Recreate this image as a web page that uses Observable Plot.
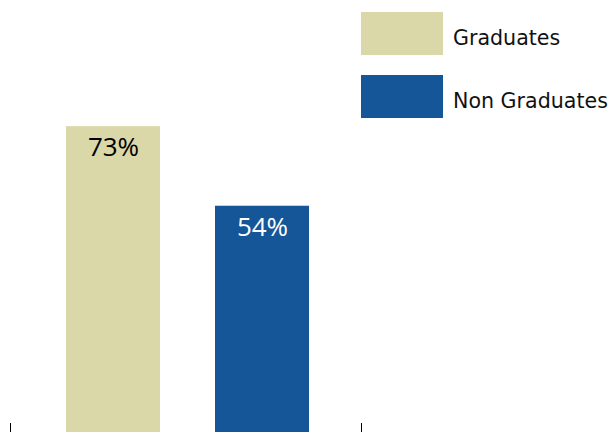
<!DOCTYPE html>
<html>
<head>
<meta charset="utf-8">
<script src="https://cdn.jsdelivr.net/npm/d3@7"></script>
<script src="https://cdn.jsdelivr.net/npm/@observablehq/plot@0.6"></script>
<style>
  html, body { margin: 0; padding: 0; background: #fff; }
  #wrap { position: relative; width: 612px; height: 432px; overflow: hidden; }
  #legend { position: absolute; left: 361px; top: 12px; font-family: "DejaVu Sans", sans-serif; font-size: 20.6px; color: #111; }
  .item { display: flex; align-items: center; height: 43px; margin-bottom: 20px; }
  .sw { width: 82px; height: 43px; margin-right: 10px; flex: none; }
  .lab { position: relative; top: 4px; white-space: nowrap; }
</style>
</head>
<body>
<div id="wrap"></div>
<script>
const categories = ["Graduates", "Non Graduates"];
const values = [73, 54];
const labels = ["73%", "54%"];
const colors = ["#DAD8A8", "#145698"];
const labelColors = ["#000000", "#ffffff"];

const data = categories.map((c, i) => ({group: c, value: values[i], label: labels[i], lc: labelColors[i]}));

const boundaryTicks = (index, scales, channels, dims) => {
  const g = d3.create("svg:g");
  const x0 = dims.marginLeft, x1 = dims.width - dims.marginRight;
  const yb = dims.height - dims.marginBottom;
  for (const x of [x0, x1]) {
    g.append("line")
      .attr("x1", x + 0.5).attr("x2", x + 0.5)
      .attr("y1", yb - 9).attr("y2", yb)
      .attr("stroke", "#000").attr("stroke-width", 1);
  }
  return g.node();
};

const chart = Plot.plot({
  width: 612,
  height: 432,
  marginLeft: 10,
  marginRight: 251,
  marginTop: 13,
  marginBottom: 0,
  x: {domain: categories, paddingInner: 0.369, paddingOuter: 0.362, align: 0.52, axis: null},
  y: {domain: [0, 100], axis: null},
  color: {domain: categories, range: colors},
  marks: [
    Plot.barY(data, {x: "group", y: "value", fill: "group"}),
    ...labelColors.map((c, i) => Plot.text(data.filter((d, j) => j === i), {
      x: "group", y: "value", text: "label", fill: c, dy: 21,
      fontSize: 26, fontFamily: "Open Sans, sans-serif", lineAnchor: "middle"
    })),
    boundaryTicks
  ]
});

const wrap = document.getElementById("wrap");
wrap.appendChild(chart);

const legend = document.createElement("div");
legend.id = "legend";
categories.forEach((c, i) => {
  const item = document.createElement("div");
  item.className = "item";
  const sw = document.createElement("div");
  sw.className = "sw";
  sw.style.background = chart.scale("color").apply(c);
  const lab = document.createElement("span");
  lab.className = "lab";
  lab.textContent = c;
  item.appendChild(sw);
  item.appendChild(lab);
  legend.appendChild(item);
});
wrap.appendChild(legend);
</script>
</body>
</html>
